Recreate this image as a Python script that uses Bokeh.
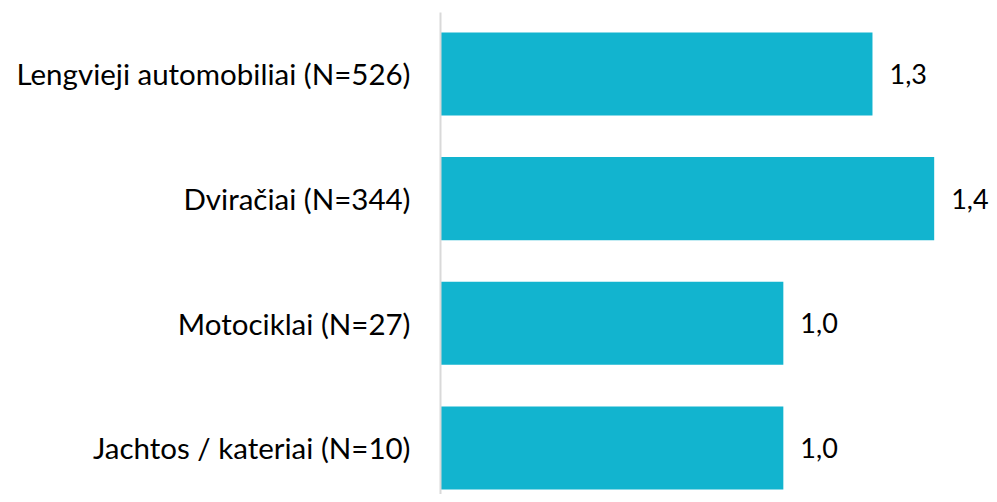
from bokeh.plotting import figure
from bokeh.models import Range1d, ColumnDataSource, FixedTicker
from bokeh.core.properties import value
from bokeh.embed import file_html
from bokeh.resources import INLINE

categories = ["Lengvieji automobiliai (N=526)", "Dviračiai (N=344)", "Motociklai (N=27)", "Jachtos / kateriai (N=10)"]
values = [1.26, 1.44, 1.0, 1.0]

n = len(categories)
ypos = [n - 1 - i for i in range(n)]
labels = [("%.1f" % v).replace(".", ",") for v in values]

src = ColumnDataSource(dict(y=ypos, v=values, lab=labels))

p = figure(width=993, height=494, output_backend="svg", toolbar_location=None,
           x_range=Range1d(0, 1.613), y_range=Range1d(-0.373, 3.493),
           min_border_left=440, min_border_right=0, min_border_top=12, min_border_bottom=0)
p.outline_line_color = None
p.grid.grid_line_color = None
p.xaxis.visible = False

p.hbar(y="y", left=0, right="v", height=0.666, source=src, color="#12B4CF", line_color=None)
p.text(x="v", y="y", text="lab", source=src, x_offset=17, text_baseline="middle",
       text_font=value("Lato"), text_font_size="27px", text_color="#000000")

ax = p.yaxis[0]
ax.ticker = FixedTicker(ticks=ypos)
ax.major_label_overrides = {y: c for y, c in zip(ypos, categories)}
ax.major_tick_line_color = None
ax.minor_tick_line_color = None
ax.major_tick_out = 0
ax.major_tick_in = 0
ax.axis_line_color = "#d9d9d9"
ax.axis_line_width = 2
ax.major_label_standoff = 30
ax.major_label_text_font = "Lato"
ax.major_label_text_font_size = "29.5px"
ax.major_label_text_color = "#000000"

open("out.html", "w").write(file_html(p, INLINE))
